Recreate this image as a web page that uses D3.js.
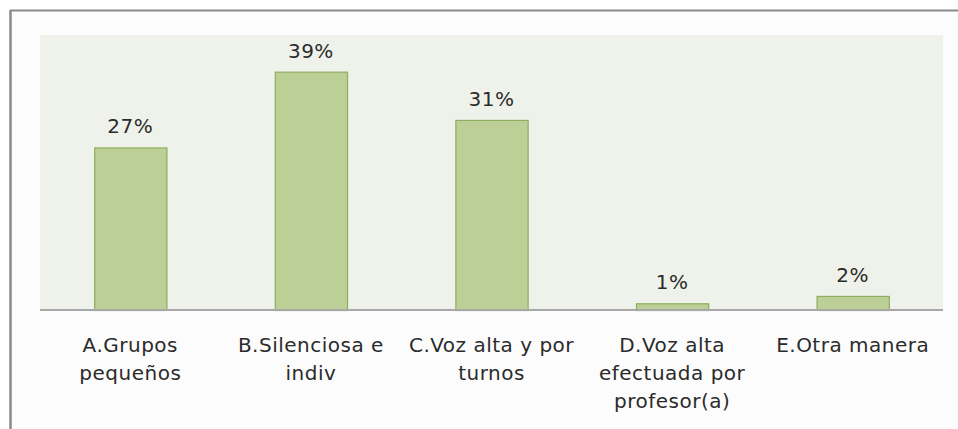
<!DOCTYPE html>
<html>
<head>
<meta charset="utf-8">
<script src="https://cdn.jsdelivr.net/npm/d3@7"></script>
<style>
  html, body { margin: 0; padding: 0; background: #ffffff; }
  svg { display: block; }
</style>
</head>
<body>
<div id="chart"></div>
<script>
// 데이터
var categories = ["A.Grupos\npequeños", "B.Silenciosa e\nindiv", "C.Voz alta y por\nturnos", "D.Voz alta\nefectuada por\nprofesor(a)", "E.Otra manera"];
var values = [26.6, 39.0, 31.1, 1.1, 2.3];
var yDomain = [0, 45];

var W = 958, H = 429;
var plot = {left: 40, right: 943, top: 35, bottom: 310};

var svg = d3.select("#chart").append("svg")
    .attr("width", W)
    .attr("height", H);

// 바깥 프레임
svg.append("rect")
    .attr("x", 10).attr("y", 10)
    .attr("width", W - 10).attr("height", H - 10)
    .attr("fill", "#fcfcfc");
svg.append("line")
    .attr("x1", 10).attr("y1", 10.5).attr("x2", W).attr("y2", 10.5)
    .attr("stroke", "#8a8a8a").attr("stroke-width", 2);
svg.append("line")
    .attr("x1", 10.5).attr("y1", 10).attr("x2", 10.5).attr("y2", H)
    .attr("stroke", "#8a8a8a").attr("stroke-width", 2.5);

// 플롯 영역 배경
svg.append("rect")
    .attr("x", plot.left).attr("y", plot.top)
    .attr("width", plot.right - plot.left).attr("height", plot.bottom - plot.top)
    .attr("fill", "#eff2ea");

// 축
var x = d3.scaleBand()
    .domain(categories)
    .range([plot.left, plot.right])
    .paddingInner(0.6)
    .paddingOuter(0.3);
var y = d3.scaleLinear().domain(yDomain).range([plot.bottom, plot.top]);

// 막대
svg.append("g").selectAll("rect")
    .data(values)
    .join("rect")
      .attr("x", function(d, i) { return x(categories[i]) + 0.5; })
      .attr("y", function(d) { return y(d) + 0.5; })
      .attr("width", x.bandwidth())
      .attr("height", function(d) { return y(0) - y(d); })
      .attr("fill", "#bbcf96")
      .attr("stroke", "#8fad5e")
      .attr("stroke-width", 1.2);

// x축 (기준선 + 라벨)
var xAxis = d3.axisBottom(x).tickSize(0).tickPadding(0);
var gx = svg.append("g")
    .attr("transform", "translate(0," + plot.bottom + ")")
    .call(xAxis);
gx.select(".domain")
    .attr("d", "M" + plot.left + ",0H" + plot.right)
    .attr("stroke", "#a8a8a8")
    .attr("stroke-width", 2);
gx.selectAll(".tick text").each(function(d) {
  var t = d3.select(this).text(null)
      .attr("y", 0).attr("dy", null)
      .attr("fill", "#2b2b2b")
      .attr("font-family", "DejaVu Sans, sans-serif")
      .attr("font-size", 20)
      .attr("letter-spacing", 0.5);
  d.split("\n").forEach(function(line, k) {
    t.append("tspan").attr("x", 0).attr("y", 42 + k * 28).text(line);
  });
});

// 값 라벨
svg.append("g").selectAll("text")
    .data(values)
    .join("text")
      .attr("x", function(d, i) { return x(categories[i]) + x.bandwidth() / 2; })
      .attr("y", function(d) { return y(d) - 14; })
      .attr("text-anchor", "middle")
      .attr("fill", "#2b2b2b")
      .attr("font-family", "DejaVu Sans, sans-serif")
      .attr("font-size", 20)
      .attr("letter-spacing", 0.5)
      .text(function(d) { return d3.format(".0f")(d) + "%"; });
</script>
</body>
</html>
